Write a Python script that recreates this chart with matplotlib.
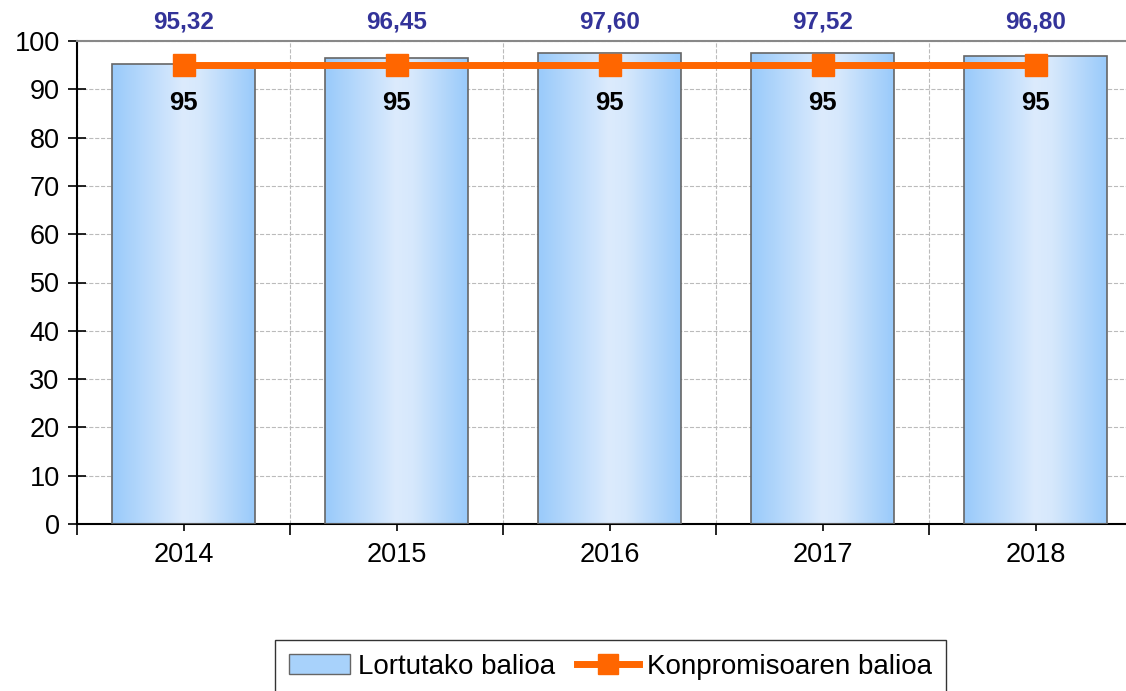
import numpy as np
import matplotlib.pyplot as plt
from matplotlib.colors import LinearSegmentedColormap
from matplotlib.patches import Patch
from matplotlib.lines import Line2D

plt.rcParams['font.family'] = ['Liberation Sans', 'DejaVu Sans']

years = ['2014', '2015', '2016', '2017', '2018']
achieved = [95.32, 96.45, 97.60, 97.52, 96.80]
commitment = [95, 95, 95, 95, 95]
achieved_labels = ['95,32', '96,45', '97,60', '97,52', '96,80']

fig = plt.figure(figsize=(11.26, 6.91), dpi=100)
ax = fig.add_axes([77 / 1126, 1 - 524 / 691, (1142 - 77) / 1126, (524 - 41) / 691])

x = np.arange(len(years))
bars = ax.bar(x, achieved, width=0.667, color='none', edgecolor='#666666',
              linewidth=1.2, zorder=3)

# horizontal gradient inside each bar
grad_cmap = LinearSegmentedColormap.from_list(
    'barfill', [(0, '#99CAFA'), (0.5, '#DCEBFD'), (0.62, '#D6E8FC'), (1, '#99CAFA')])
grad = np.linspace(0, 1, 256).reshape(1, -1)
for b in bars:
    x0, w, h = b.get_x(), b.get_width(), b.get_height()
    im = ax.imshow(grad, cmap=grad_cmap, aspect='auto', extent=(x0, x0 + w, 0, h),
                   zorder=2, interpolation='bicubic')
    im.set_clip_path(b)

ax.plot(x, commitment, color='#FF6600', lw=5, marker='s', markersize=16,
        zorder=4, solid_capstyle='butt')

for xi, lab in zip(x, achieved_labels):
    ax.annotate(lab, (xi, 100), xytext=(0, 19), textcoords='offset pixels',
                ha='center', va='center', fontsize=17.5, fontweight='bold',
                color='#333399', annotation_clip=False)
for xi, v in zip(x, commitment):
    ax.annotate(str(v), (xi, v), xytext=(0, -38), textcoords='offset pixels',
                ha='center', va='center', fontsize=18.5, fontweight='bold',
                color='black', zorder=5)

ax.set_xlim(-0.5, len(years) - 0.5)
ax.set_ylim(0, 100)
ax.set_yticks(range(0, 101, 10))
ax.tick_params(axis='y', labelsize=19.5, direction='inout', length=13, width=1.2, pad=6)
ax.set_xticks(x)
ax.set_xticklabels(years)
ax.set_xticks(np.arange(-0.5, len(years), 1), minor=True)
ax.tick_params(axis='x', which='major', labelsize=19.5, direction='out', length=5,
               width=1.2, pad=8)
ax.tick_params(axis='x', which='minor', direction='out', length=8, width=1.2)

ax.grid(axis='y', color='#BBBBBB', linestyle='--', linewidth=0.8, zorder=0)
ax.grid(axis='x', which='minor', color='#BBBBBB', linestyle='--', linewidth=0.8, zorder=0)
ax.set_axisbelow(True)

ax.spines['left'].set_linewidth(1.5)
ax.spines['bottom'].set_linewidth(1.5)
ax.spines['top'].set_color('#888888')
ax.spines['top'].set_linewidth(1.5)
ax.spines['right'].set_visible(False)

handles = [Patch(facecolor='#A8D2FB', edgecolor='#666666', label='Lortutako balioa'),
           Line2D([], [], color='#FF6600', lw=5, marker='s', markersize=14,
                  label='Konpromisoaren balioa')]
leg = fig.legend(handles=handles, loc='upper center', bbox_to_anchor=(0.542, 1 - 640 / 691),
                 ncol=2, fontsize=20, frameon=True, fancybox=False, edgecolor='black',
                 borderpad=0.5, borderaxespad=0, handlelength=2.2, columnspacing=0.8,
                 handletextpad=0.3)
leg.get_frame().set_linewidth(1.0)

fig.savefig('out.png', dpi=100)
